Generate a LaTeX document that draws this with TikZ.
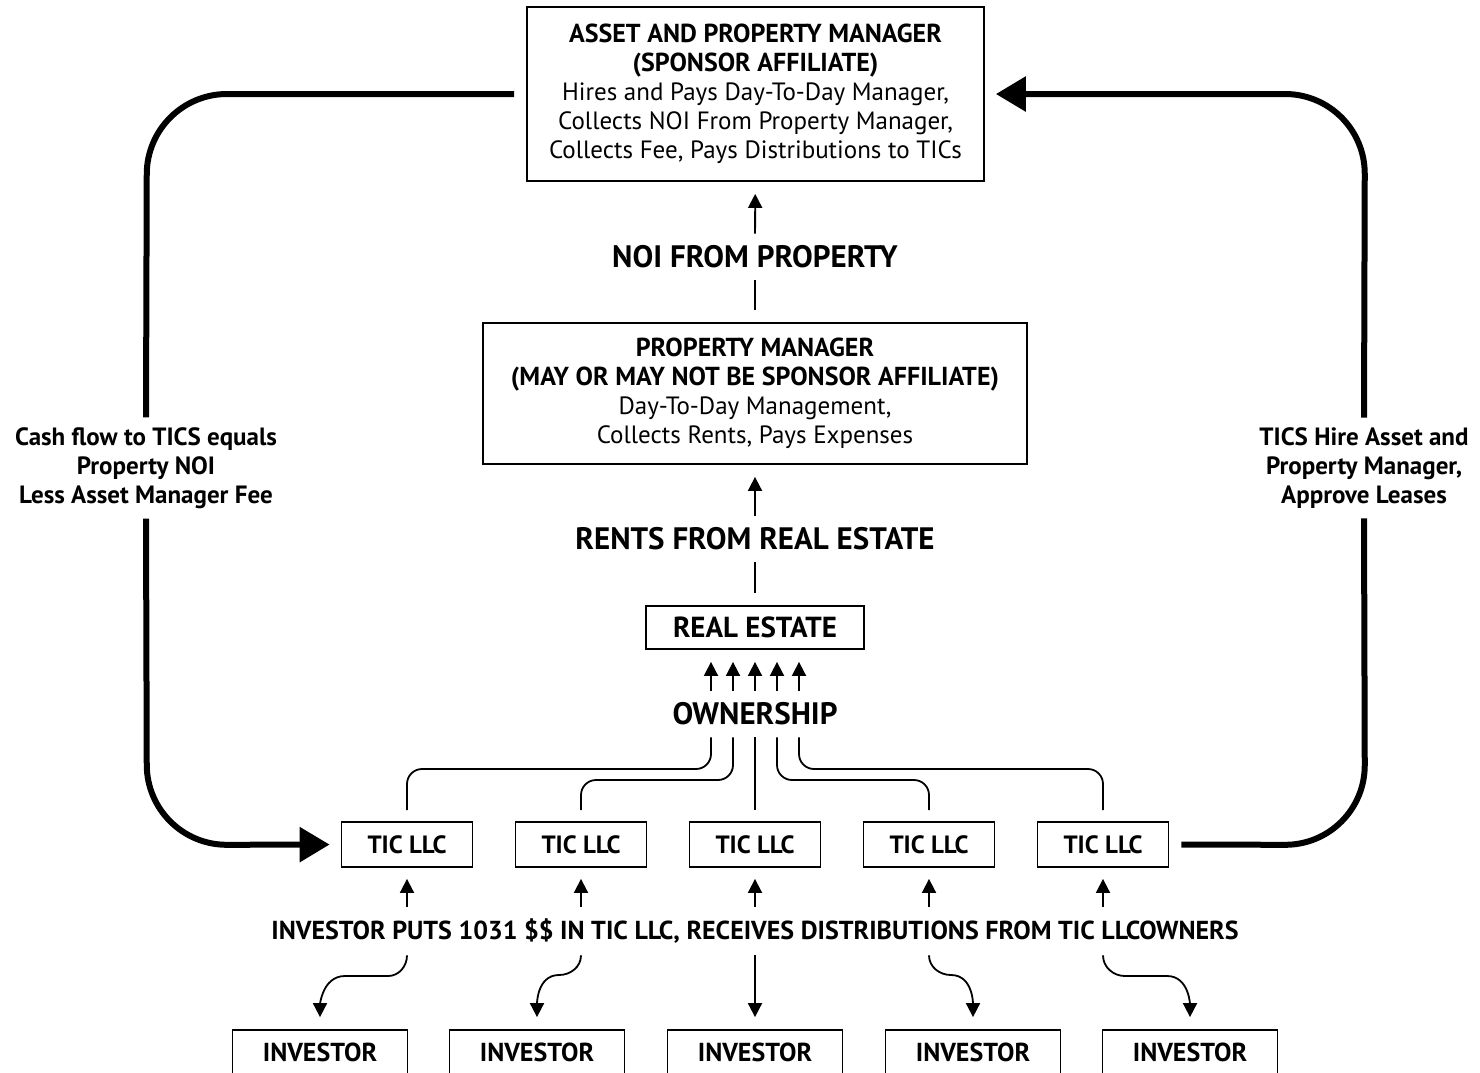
\documentclass[tikz,border=0pt]{standalone}
\usepackage{fontspec}
\setmainfont{PT Sans}
\usetikzlibrary{arrows.meta,calc}
\begin{document}
\begin{tikzpicture}[x=1pt,y=-1pt,
  box/.style={draw,line width=1.8pt,inner sep=0pt,align=center},
  lab/.style={inner sep=0pt,outer ysep=12pt,align=center},
  boxtxt/.style={font=\fontsize{25}{29}\selectfont},
  bigtxt/.style={font=\fontsize{31}{34}\selectfont\bfseries},
  midtxt/.style={font=\fontsize{26}{29}\selectfont\bfseries},
  sidetxt/.style={font=\fontsize{25}{29}\selectfont\bfseries},
  thinln/.style={line width=1.8pt},
  arr/.style={line width=1.8pt,-{Triangle[length=14pt,width=14pt]}},
  big/.style={line width=6pt},
  bigarr/.style={line width=6pt,-{Triangle[length=30pt,width=34pt]}}
]
\useasboundingbox (0,0) rectangle (1480,1072);

% boxes
\node[box,boxtxt,minimum width=457pt,minimum height=174pt] (top) at (755.5,94)
  {{\fontsize{26}{29}\selectfont\bfseries ASSET AND PROPERTY MANAGER}\\ {\fontsize{26}{29}\selectfont\bfseries (SPONSOR AFFILIATE)}\\ Hires and Pays Day-To-Day Manager,\\ Collects NOI From Property Manager,\\ Collects Fee, Pays Distributions to TICs};
\node[lab,bigtxt] (noi) at (755,257) {NOI FROM PROPERTY};
\node[box,boxtxt,minimum width=544pt,minimum height=141pt] (pm) at (755,393.5)
  {{\fontsize{26}{29}\selectfont\bfseries PROPERTY MANAGER}\\ {\fontsize{26}{29}\selectfont\bfseries (MAY OR MAY NOT BE SPONSOR AFFILIATE)}\\ Day-To-Day Management,\\ Collects Rents, Pays Expenses};
\node[lab,bigtxt] (rents) at (755,539) {RENTS FROM REAL ESTATE};
\node[box,bigtxt,font=\fontsize{29}{32}\selectfont\bfseries,minimum width=218pt,minimum height=43pt] (re) at (755,627.5) {REAL ESTATE};
\node[lab,bigtxt] (own) at (755,714) {OWNERSHIP};

\foreach \i/\x in {1/407,2/581,3/755,4/929,5/1103}
  \node[box,font=\fontsize{25}{29}\selectfont\bfseries,minimum width=131pt,minimum height=45pt] (tic\i) at (\x,844.5) {TIC LLC};
\node[lab,midtxt] (put) at (755,931) {INVESTOR PUTS 1031 \$\$ IN TIC LLC, RECEIVES DISTRIBUTIONS FROM TIC LLCOWNERS};
\foreach \i/\x in {1/320,2/537,3/755,4/973,5/1190}
  \node[box,midtxt,minimum width=175pt,minimum height=45pt] (inv\i) at (\x,1052.5) {INVESTOR};

\node[lab,sidetxt,outer ysep=10pt] (cash) at (146,468) {Cash flow to TICS equals\\ Property NOI\\ Less Asset Manager Fee};
\node[lab,sidetxt,outer ysep=10pt] (hire) at (1364,468) {TICS Hire Asset and\\ Property Manager,\\ Approve Leases};

% vertical flow
\draw[arr,shorten >=12pt] (noi) -- (top);
\draw[thinln,shorten <=12pt] (pm) -- (noi);
\draw[arr,shorten >=12pt] (rents) -- (pm);
\draw[thinln,shorten <=12pt] (re) -- (rents);
\foreach \dx in {-44,-22,0,22,44}
  \draw[arr,shorten >=12pt] ([xshift=\dx pt]own.north) -- ([xshift=\dx pt]re.south);

% ownership to TIC
\draw[thinln,rounded corners=15pt,shorten >=11pt] ([xshift=-44pt]own.south) -- (711,769) -- (407,769) -- (tic1.north);
\draw[thinln,rounded corners=15pt,shorten >=11pt] ([xshift=-22pt]own.south) -- (733,780) -- (581,780) -- (tic2.north);
\draw[thinln,shorten >=11pt] (own.south) -- (tic3.north);
\draw[thinln,rounded corners=15pt,shorten >=11pt] ([xshift=22pt]own.south) -- (777,780) -- (929,780) -- (tic4.north);
\draw[thinln,rounded corners=15pt,shorten >=11pt] ([xshift=44pt]own.south) -- (799,769) -- (1103,769) -- (tic5.north);

% label up to TICs
\foreach \i in {1,...,5}
  \draw[arr,shorten >=11pt] (tic\i |- put.north) -- (tic\i.south);

% label down to investors
\draw[arr,shorten >=12pt] (tic1 |- put.south) to[out=-90,in=0] (388,976) -- (345,976) to[out=180,in=90] (inv1.north);
\draw[arr,shorten >=12pt] (tic2 |- put.south) to[out=-90,in=0] (559,975) to[out=180,in=90] (inv2.north);
\draw[arr,shorten >=12pt] (put.south) -- (inv3.north);
\draw[arr,shorten >=12pt] (tic4 |- put.south) to[out=-90,in=180] (951,975) to[out=0,in=90] (inv4.north);
\draw[arr,shorten >=12pt] (tic5 |- put.south) to[out=-90,in=180] (1125,976) -- (1167,976) to[out=0,in=90] (inv5.north);

% big loops
\draw[big,rounded corners=80pt,shorten <=12pt] (top.west) -- (147,94) -- (cash.north);
\draw[bigarr,rounded corners=80pt,shorten >=11pt] (cash.south) -- (147,845) -- (tic1.west);
\draw[big,rounded corners=80pt,shorten <=12pt] (tic5.east) -- (1365,845) -- (hire.south);
\draw[bigarr,rounded corners=80pt,shorten >=11pt] (hire.north) -- (1365,94) -- (top.east);
\end{tikzpicture}
\end{document}
